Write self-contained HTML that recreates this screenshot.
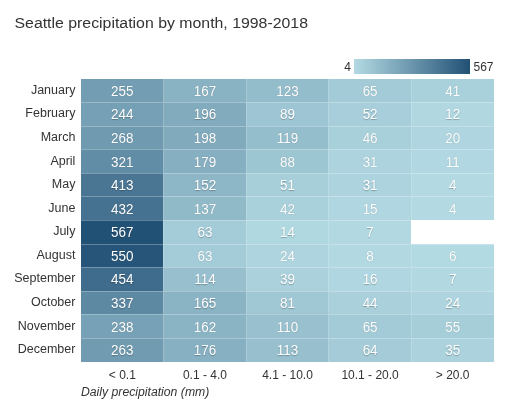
<!DOCTYPE html>
<html><head><meta charset="utf-8">
<style>
html,body{margin:0;padding:0;background:#fff;}
body{width:508px;height:418px;overflow:hidden;position:relative;}
svg{position:absolute;left:0;top:0;will-change:transform;}
text{font-family:"Liberation Sans",sans-serif;}
</style></head><body>
<svg width="508" height="418" viewBox="0 0 508 418">
<defs><linearGradient id="g" x1="0" x2="1" y1="0" y2="0"><stop offset="0" stop-color="#b3dae3"/><stop offset="1" stop-color="#225176"/></linearGradient></defs>
<text x="14.5" y="28" font-size="15.5" fill="#333" textLength="293.5" lengthAdjust="spacingAndGlyphs">Seattle precipitation by month, 1998-2018</text>
<rect x="354" y="59" width="116" height="15" fill="url(#g)"/>
<g font-size="12" fill="#333">
<text x="351" y="70.8" text-anchor="end">4</text>
<text x="473.5" y="70.8">567</text>
</g>
<g><rect x="81" y="79" width="82" height="23" fill="#729db2"/><rect x="163" y="79" width="83" height="23" fill="#89b2c3"/><rect x="246" y="79" width="82" height="23" fill="#94bdcc"/><rect x="328" y="79" width="83" height="23" fill="#a3cbd7"/><rect x="411" y="79" width="83" height="23" fill="#a9d1dc"/><rect x="81" y="102" width="82" height="24" fill="#75a0b5"/><rect x="163" y="102" width="83" height="24" fill="#82abbe"/><rect x="246" y="102" width="82" height="24" fill="#9dc5d3"/><rect x="328" y="102" width="83" height="24" fill="#a7ceda"/><rect x="411" y="102" width="83" height="24" fill="#b1d8e1"/><rect x="81" y="126" width="82" height="23" fill="#6f9ab0"/><rect x="163" y="126" width="83" height="23" fill="#81abbd"/><rect x="246" y="126" width="82" height="23" fill="#95becd"/><rect x="328" y="126" width="83" height="23" fill="#a8d0db"/><rect x="411" y="126" width="83" height="23" fill="#afd6e0"/><rect x="81" y="149" width="82" height="24" fill="#618da6"/><rect x="163" y="149" width="83" height="24" fill="#86afc1"/><rect x="246" y="149" width="82" height="24" fill="#9dc6d3"/><rect x="328" y="149" width="83" height="24" fill="#acd3de"/><rect x="411" y="149" width="83" height="24" fill="#b1d8e2"/><rect x="81" y="173" width="82" height="23" fill="#4a7694"/><rect x="163" y="173" width="83" height="23" fill="#8db6c6"/><rect x="246" y="173" width="82" height="23" fill="#a7cfda"/><rect x="328" y="173" width="83" height="23" fill="#acd3de"/><rect x="411" y="173" width="83" height="23" fill="#b3dae3"/><rect x="81" y="196" width="82" height="24" fill="#457290"/><rect x="163" y="196" width="83" height="24" fill="#91bac9"/><rect x="246" y="196" width="82" height="24" fill="#a9d1dc"/><rect x="328" y="196" width="83" height="24" fill="#b0d7e1"/><rect x="411" y="196" width="83" height="24" fill="#b3dae3"/><rect x="81" y="220" width="82" height="24" fill="#225176"/><rect x="163" y="220" width="83" height="24" fill="#a4ccd8"/><rect x="246" y="220" width="82" height="24" fill="#b0d8e1"/><rect x="328" y="220" width="83" height="24" fill="#b2d9e2"/><rect x="81" y="244" width="82" height="23" fill="#265579"/><rect x="163" y="244" width="83" height="23" fill="#a4ccd8"/><rect x="246" y="244" width="82" height="23" fill="#aed5df"/><rect x="328" y="244" width="83" height="23" fill="#b2d9e2"/><rect x="411" y="244" width="83" height="23" fill="#b2dae3"/><rect x="81" y="267" width="82" height="24" fill="#3f6c8c"/><rect x="163" y="267" width="83" height="24" fill="#97bfce"/><rect x="246" y="267" width="82" height="24" fill="#aad1dc"/><rect x="328" y="267" width="83" height="24" fill="#b0d7e1"/><rect x="411" y="267" width="83" height="24" fill="#b2d9e2"/><rect x="81" y="291" width="82" height="23" fill="#5d89a3"/><rect x="163" y="291" width="83" height="23" fill="#8ab3c4"/><rect x="246" y="291" width="82" height="23" fill="#9fc7d4"/><rect x="328" y="291" width="83" height="23" fill="#a9d0db"/><rect x="411" y="291" width="83" height="23" fill="#aed5df"/><rect x="81" y="314" width="82" height="24" fill="#77a1b6"/><rect x="163" y="314" width="83" height="24" fill="#8ab4c4"/><rect x="246" y="314" width="82" height="24" fill="#98c0ce"/><rect x="328" y="314" width="83" height="24" fill="#a3cbd7"/><rect x="411" y="314" width="83" height="24" fill="#a6ced9"/><rect x="81" y="338" width="82" height="24" fill="#709bb1"/><rect x="163" y="338" width="83" height="24" fill="#87b0c2"/><rect x="246" y="338" width="82" height="24" fill="#97bfce"/><rect x="328" y="338" width="83" height="24" fill="#a4cbd7"/><rect x="411" y="338" width="83" height="24" fill="#abd2dd"/></g>
<g opacity="0.18"><path d="M163.5 79V362.00M246.5 79V362.00M328.5 79V362.00M411.5 79V362.00" stroke="#fff" stroke-width="1" fill="none" shape-rendering="crispEdges"/></g><g opacity="0.28"><path d="M81 102.5H163M164 102.5H246M247 102.5H328M329 102.5H411M412 102.5H494M81 126.5H163M164 126.5H246M247 126.5H328M329 126.5H411M412 126.5H494M81 149.5H163M164 149.5H246M247 149.5H328M329 149.5H411M412 149.5H494M81 173.5H163M164 173.5H246M247 173.5H328M329 173.5H411M412 173.5H494M81 196.5H163M164 196.5H246M247 196.5H328M329 196.5H411M412 196.5H494M81 220.5H163M164 220.5H246M247 220.5H328M329 220.5H411M412 220.5H494M81 244.5H163M164 244.5H246M247 244.5H328M329 244.5H411M412 244.5H494M81 267.5H163M164 267.5H246M247 267.5H328M329 267.5H411M412 267.5H494M81 291.5H163M164 291.5H246M247 291.5H328M329 291.5H411M412 291.5H494M81 314.5H163M164 314.5H246M247 314.5H328M329 314.5H411M412 314.5H494M81 338.5H163M164 338.5H246M247 338.5H328M329 338.5H411M412 338.5H494" stroke="#fff" stroke-width="1" fill="none" shape-rendering="crispEdges"/></g>
<g font-size="12.5" fill="#333" text-anchor="end"><text transform="translate(75.4,93.79) scale(1.0,1)">January</text><text transform="translate(75.4,117.38) scale(1.0,1)">February</text><text transform="translate(75.4,140.96) scale(1.0,1)">March</text><text transform="translate(75.4,164.54) scale(1.0,1)">April</text><text transform="translate(75.4,188.12) scale(1.0,1)">May</text><text transform="translate(75.4,211.71) scale(1.0,1)">June</text><text transform="translate(75.4,235.29) scale(1.0,1)">July</text><text transform="translate(75.4,258.88) scale(1.0,1)">August</text><text transform="translate(75.4,282.46) scale(1.0,1)">September</text><text transform="translate(75.4,306.04) scale(1.0,1)">October</text><text transform="translate(75.4,329.62) scale(1.0,1)">November</text><text transform="translate(75.4,353.21) scale(1.0,1)">December</text></g>
<g font-size="14" fill="#fff" text-anchor="middle" style="text-shadow:0 0.5px 1px rgba(0,0,0,0.25)"><text transform="translate(122.30,95.79) scale(0.96,1)">255</text><text transform="translate(204.90,95.79) scale(0.96,1)">167</text><text transform="translate(287.50,95.79) scale(0.96,1)">123</text><text transform="translate(370.10,95.79) scale(0.96,1)">65</text><text transform="translate(452.70,95.79) scale(0.96,1)">41</text><text transform="translate(122.30,119.38) scale(0.96,1)">244</text><text transform="translate(204.90,119.38) scale(0.96,1)">196</text><text transform="translate(287.50,119.38) scale(0.96,1)">89</text><text transform="translate(370.10,119.38) scale(0.96,1)">52</text><text transform="translate(452.70,119.38) scale(0.96,1)">12</text><text transform="translate(122.30,142.96) scale(0.96,1)">268</text><text transform="translate(204.90,142.96) scale(0.96,1)">198</text><text transform="translate(287.50,142.96) scale(0.96,1)">119</text><text transform="translate(370.10,142.96) scale(0.96,1)">46</text><text transform="translate(452.70,142.96) scale(0.96,1)">20</text><text transform="translate(122.30,166.54) scale(0.96,1)">321</text><text transform="translate(204.90,166.54) scale(0.96,1)">179</text><text transform="translate(287.50,166.54) scale(0.96,1)">88</text><text transform="translate(370.10,166.54) scale(0.96,1)">31</text><text transform="translate(452.70,166.54) scale(0.96,1)">11</text><text transform="translate(122.30,190.12) scale(0.96,1)">413</text><text transform="translate(204.90,190.12) scale(0.96,1)">152</text><text transform="translate(287.50,190.12) scale(0.96,1)">51</text><text transform="translate(370.10,190.12) scale(0.96,1)">31</text><text transform="translate(452.70,190.12) scale(0.96,1)">4</text><text transform="translate(122.30,213.71) scale(0.96,1)">432</text><text transform="translate(204.90,213.71) scale(0.96,1)">137</text><text transform="translate(287.50,213.71) scale(0.96,1)">42</text><text transform="translate(370.10,213.71) scale(0.96,1)">15</text><text transform="translate(452.70,213.71) scale(0.96,1)">4</text><text transform="translate(122.30,237.29) scale(0.96,1)">567</text><text transform="translate(204.90,237.29) scale(0.96,1)">63</text><text transform="translate(287.50,237.29) scale(0.96,1)">14</text><text transform="translate(370.10,237.29) scale(0.96,1)">7</text><text transform="translate(122.30,260.88) scale(0.96,1)">550</text><text transform="translate(204.90,260.88) scale(0.96,1)">63</text><text transform="translate(287.50,260.88) scale(0.96,1)">24</text><text transform="translate(370.10,260.88) scale(0.96,1)">8</text><text transform="translate(452.70,260.88) scale(0.96,1)">6</text><text transform="translate(122.30,284.46) scale(0.96,1)">454</text><text transform="translate(204.90,284.46) scale(0.96,1)">114</text><text transform="translate(287.50,284.46) scale(0.96,1)">39</text><text transform="translate(370.10,284.46) scale(0.96,1)">16</text><text transform="translate(452.70,284.46) scale(0.96,1)">7</text><text transform="translate(122.30,308.04) scale(0.96,1)">337</text><text transform="translate(204.90,308.04) scale(0.96,1)">165</text><text transform="translate(287.50,308.04) scale(0.96,1)">81</text><text transform="translate(370.10,308.04) scale(0.96,1)">44</text><text transform="translate(452.70,308.04) scale(0.96,1)">24</text><text transform="translate(122.30,331.62) scale(0.96,1)">238</text><text transform="translate(204.90,331.62) scale(0.96,1)">162</text><text transform="translate(287.50,331.62) scale(0.96,1)">110</text><text transform="translate(370.10,331.62) scale(0.96,1)">65</text><text transform="translate(452.70,331.62) scale(0.96,1)">55</text><text transform="translate(122.30,355.21) scale(0.96,1)">263</text><text transform="translate(204.90,355.21) scale(0.96,1)">176</text><text transform="translate(287.50,355.21) scale(0.96,1)">113</text><text transform="translate(370.10,355.21) scale(0.96,1)">64</text><text transform="translate(452.70,355.21) scale(0.96,1)">35</text></g>
<g font-size="12.5" fill="#333" text-anchor="middle"><text transform="translate(122.30,379) scale(0.96,1)">&lt; 0.1</text><text transform="translate(204.90,379) scale(0.96,1)">0.1 - 4.0</text><text transform="translate(287.50,379) scale(0.96,1)">4.1 - 10.0</text><text transform="translate(370.10,379) scale(0.96,1)">10.1 - 20.0</text><text transform="translate(452.70,379) scale(0.96,1)">&gt; 20.0</text></g>
<text x="81" y="395.7" font-size="12.5" font-style="italic" fill="#333" textLength="128.3" lengthAdjust="spacingAndGlyphs">Daily precipitation (mm)</text>
</svg>
</body></html>
